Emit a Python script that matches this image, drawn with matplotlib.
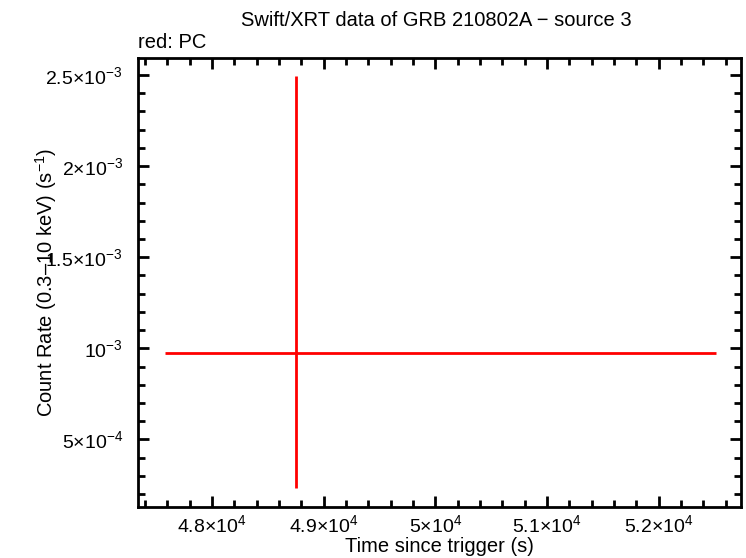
import matplotlib
matplotlib.use("Agg")
import matplotlib.pyplot as plt
from matplotlib.ticker import FixedLocator, MultipleLocator

plt.rcParams['font.family'] = ['Liberation Sans', 'DejaVu Sans']
plt.rcParams['mathtext.fontset'] = 'custom'
plt.rcParams['mathtext.rm'] = 'Liberation Sans'
plt.rcParams['mathtext.it'] = 'Liberation Sans'

# Data (single PC point)
time = [48752]
time_err_lo = [1173]
time_err_hi = [3760]
rate = [0.000973]
rate_err_lo = [0.000740]
rate_err_hi = [0.001522]

xticks = [48000, 49000, 50000, 51000, 52000]
xticklabels = [r'4.8$\times$10$^{4}$', r'4.9$\times$10$^{4}$', r'5$\times$10$^{4}$',
               r'5.1$\times$10$^{4}$', r'5.2$\times$10$^{4}$']
yticks = [0.0005, 0.001, 0.0015, 0.002, 0.0025]
yticklabels = [r'5$\times$10$^{-4}$', r'10$^{-3}$', r'1.5$\times$10$^{-3}$',
               r'2$\times$10$^{-3}$', r'2.5$\times$10$^{-3}$']

fig = plt.figure(figsize=(7.46, 5.58), dpi=100)
ax = fig.add_axes([138/746, 51/558, 603/746, 449/558])

ax.errorbar(time, rate, xerr=[time_err_lo, time_err_hi], yerr=[rate_err_lo, rate_err_hi],
            fmt='none', ecolor='#ff0000', elinewidth=2, capsize=0)

ax.set_xlim(47338, 52736)
ax.set_ylim(0.000129, 0.002593)

ax.xaxis.set_major_locator(FixedLocator(xticks))
ax.set_xticklabels(xticklabels)
ax.xaxis.set_minor_locator(MultipleLocator(200))
ax.yaxis.set_major_locator(FixedLocator(yticks))
ax.set_yticklabels(yticklabels)
ax.yaxis.set_minor_locator(MultipleLocator(0.0001))

ax.tick_params(which='both', direction='in', top=True, right=True, width=2, labelsize=14)
ax.tick_params(which='major', length=8)
ax.tick_params(axis='y', which='major', pad=11)
ax.tick_params(axis='x', which='major', pad=5)
ax.tick_params(which='minor', length=5)
for s in ax.spines.values():
    s.set_linewidth(2)

ax.set_xlabel('Time since trigger (s)', fontsize=14.5)
ax.xaxis.set_label_coords(0.5, -(547 - 507) / 449, transform=ax.transAxes)
ax.set_ylabel('Count Rate (0.3\u201310 keV) (s$^{-1}$)', fontsize=14.5)
ax.yaxis.set_label_coords(-(138 - 46) / 603, 0.5, transform=ax.transAxes)
ax.xaxis.label.set_va('center')
ax.yaxis.label.set_va('center')
fig.text(436/746, 1 - 20/558, 'Swift/XRT data of GRB 210802A \u2212 source 3', ha='center', va='center', fontsize=14.5)
fig.text(138/746, 1 - 43/558, 'red: PC', ha='left', va='center', fontsize=14.5)

fig.savefig('out.png', dpi=100)
